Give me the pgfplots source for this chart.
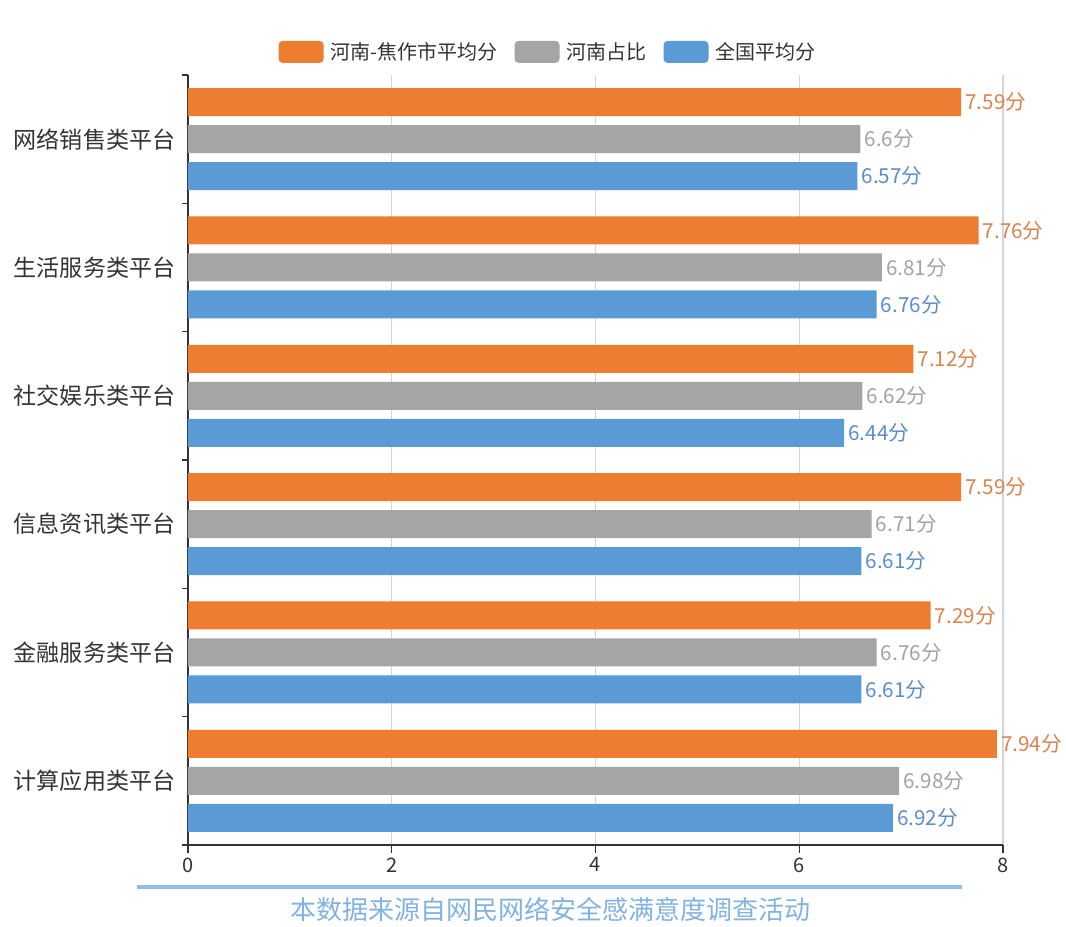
\documentclass[border=0pt]{standalone}
\usepackage{pgfplots}
\pgfplotsset{compat=1.18}
\usepackage{fontspec}
\setmainfont{Noto Sans CJK SC}
\definecolor{cO}{HTML}{ED7D31}
\definecolor{cG}{HTML}{A5A5A5}
\definecolor{cB}{HTML}{5B9BD5}
\definecolor{lO}{HTML}{D9834F}
\definecolor{lG}{HTML}{A3A3A3}
\definecolor{lB}{HTML}{5B8DC8}
\definecolor{textc}{HTML}{333333}
\definecolor{gridc}{HTML}{D4D4D4}
\definecolor{footC}{HTML}{82B2E2}
\definecolor{lineC}{HTML}{8EBDEA}
\pgfplotsset{myleg/.style={legend image code/.code={\fill[##1, rounded corners=3pt] (0pt,-8.25pt) rectangle (33.75pt,8.25pt);}}}
\begin{document}
\begin{tikzpicture}
\path (-141pt,-59.25pt) rectangle (658.5pt,633.75pt);
\begin{axis}[at={(0,0)}, anchor=south west, scale only axis,
  width=611.25pt, height=577.5pt,
  xmin=0, xmax=8, ymin=-0.5, ymax=5.5,
  xbar, bar width=21pt,
  axis x line*=bottom, axis y line*=left,
  axis line style={draw=textc, line width=0.8pt},
  xtick={0,2,4,6,8}, xmajorgrids, grid style={draw=gridc, line width=0.8pt},
  ytick={0,...,5},
  yticklabels={计算应用类平台,金融服务类平台,信息资讯类平台,社交娱乐类平台,生活服务类平台,网络销售类平台},
  minor ytick={-0.5,0.5,...,5.5},
  tick align=outside, major tick length=6pt, minor tick length=4.5pt,
  major y tick style={draw=none},
  minor y tick style={draw=textc, line width=0.8pt},
  major x tick style={draw=textc, line width=0.8pt},
  /pgf/number format/assume math mode=true,
  yticklabel style={font=\fontsize{17.3}{19}\selectfont, text=textc},
  xticklabel style={font=\fontsize{15}{17}\selectfont, text=textc},
  legend style={at={(0.442,1.030)}, anchor=center, draw=none, fill=none,
    legend columns=3, font=\fontsize{15}{18}\selectfont, text=textc,
    /tikz/every even column/.append style={column sep=11pt}},
  point meta=explicit symbolic,
  nodes near coords={\pgfplotspointmeta 分},
  every node near coord/.append style={font=\fontsize{15.5}{18}\selectfont, anchor=west, inner sep=3pt},
]
\addplot[fill=cO, draw=none, bar shift=27.75pt, myleg, every node near coord/.append style={text=lO}] coordinates {
(7.94,0) [7.94] (7.29,1) [7.29] (7.59,2) [7.59] (7.12,3) [7.12] (7.76,4) [7.76] (7.59,5) [7.59]};
\addlegendentry{\hspace{3pt}河南-焦作市平均分}
\addplot[fill=cG, draw=none, bar shift=0pt, myleg, every node near coord/.append style={text=lG}] coordinates {
(6.98,0) [6.98] (6.76,1) [6.76] (6.71,2) [6.71] (6.62,3) [6.62] (6.81,4) [6.81] (6.6,5) [6.6]};
\addlegendentry{\hspace{3pt}河南占比}
\addplot[fill=cB, draw=none, bar shift=-27.75pt, myleg, every node near coord/.append style={text=lB}] coordinates {
(6.92,0) [6.92] (6.61,1) [6.61] (6.61,2) [6.61] (6.44,3) [6.44] (6.76,4) [6.76] (6.57,5) [6.57]};
\addlegendentry{\hspace{3pt}全国平均分}
\end{axis}
\draw[color=lineC, line width=3pt] (-38.25pt,-31.5pt) -- (580.5pt,-31.5pt);
\node[text=footC, font=\fontsize{19.5}{22}\selectfont] at (271.5pt,-48.75pt) {本数据来源自网民网络安全感满意度调查活动};
\end{tikzpicture}
\end{document}
